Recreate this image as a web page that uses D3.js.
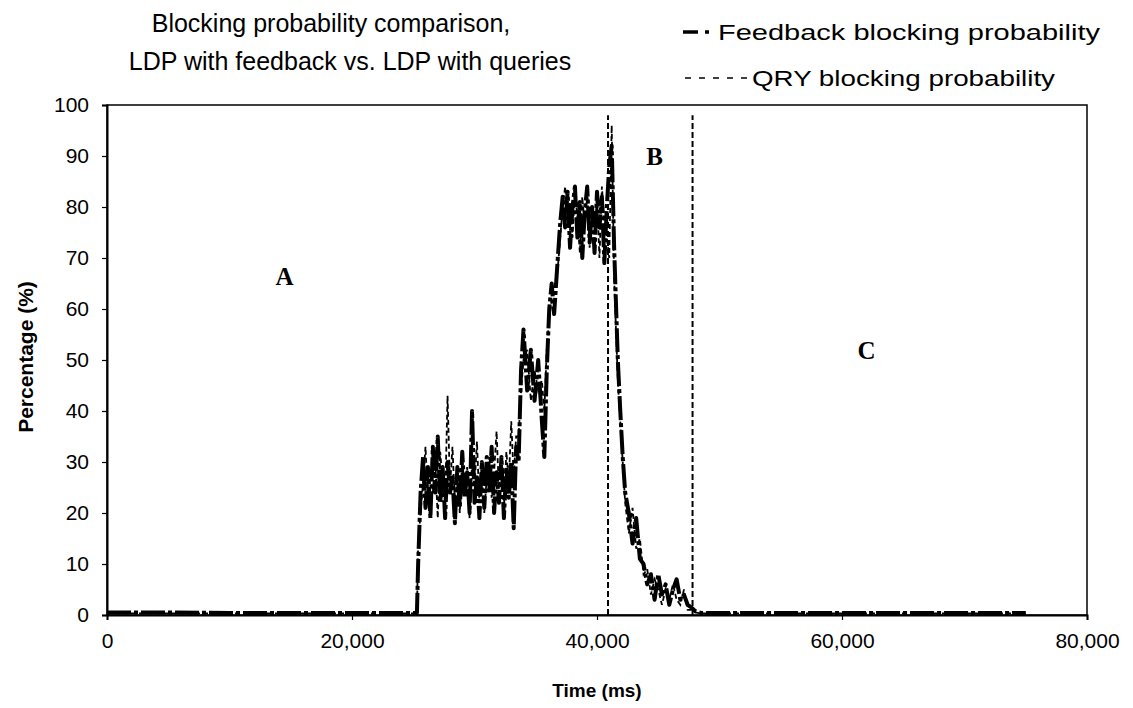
<!DOCTYPE html>
<html>
<head>
<meta charset="utf-8">
<script src="https://cdn.jsdelivr.net/npm/d3@7"></script>
<style>
  body { margin: 0; background: #fff; }
  svg { display: block; font-family: "Liberation Sans", Arial, sans-serif; }
</style>
</head>
<body>
<div id="chart"></div>
<script>
// time axis (ms), shared by both series
const timeMs = [
  0, 5000, 10000, 15000, 20000, 25300,
  25400, 25600, 25800, 26000, 26200, 26400, 26600, 26800, 27000, 27200,
  27400, 27600, 27800, 28000, 28200, 28400, 28600, 28800, 29000, 29200,
  29400, 29600, 29800, 30000, 30200, 30400, 30600, 30800, 31000, 31200,
  31400, 31600, 31800, 32000, 32200, 32400, 32600, 32800, 33000, 33200,
  33400,
  33600, 33800, 34000, 34300, 34600, 34900, 35200, 35500, 35700, 35900,
  36100, 36300, 36500, 36800, 37000,
  37200, 37400, 37600, 37800, 38000, 38200, 38400, 38600, 38800, 39000,
  39200, 39400, 39600, 39800, 40000, 40200, 40400, 40600, 40800, 41000,
  41200, 41400,
  41700, 41900, 42100, 42300, 42600, 42900, 43200, 43500, 43800, 44100,
  44400, 44700, 45000, 45300, 45600, 45900, 46200, 46500, 46800, 47100,
  47400, 47700, 48000, 48500, 55000, 65000, 75000
];

// blocking probability (%) with feedback
const feedbackPct = [
  0.5, 0.5, 0.4, 0.4, 0.4, 0.4,
  10, 24, 31, 21, 29, 19, 33, 24, 35, 22,
  29, 19, 30, 24, 27, 18, 29, 21, 32, 23,
  28, 20, 40, 22, 27, 19, 30, 21, 31, 24,
  33, 20, 28, 22, 31, 19, 29, 23, 30, 17,
  33,
  30, 48, 56, 44, 52, 42, 50, 38, 31, 48,
  60, 65, 59, 70, 77,
  82, 76, 83, 72, 80, 84, 74, 81, 70, 79,
  84, 73, 80, 71, 83, 76, 82, 69, 80, 88,
  92, 72,
  50, 40, 31, 24, 20, 14, 19, 11, 10, 6,
  8, 3, 8, 4, 6, 2, 5, 7, 3, 4,
  2, 1.5, 0.8, 0.4, 0.4, 0.4, 0.4
];

// blocking probability (%) with queries
const qryPct = [
  0.3, 0.3, 0.3, 0.3, 0.3, 0.3,
  14, 20, 26, 33, 22, 28, 24, 30, 19, 32,
  26, 22, 43, 25, 33, 22, 28, 20, 31, 24,
  29, 19, 30, 25, 34, 22, 28, 20, 27, 31,
  23, 28, 36, 24, 29, 21, 32, 26, 38, 27,
  35,
  35, 44, 50, 52, 42, 48, 44, 46, 40, 52,
  58, 62, 64, 68, 74,
  80, 84, 77, 81, 74, 83, 78, 71, 82, 76,
  84, 72, 79, 75, 82, 70, 84, 77, 74, 70,
  96, 66,
  46, 38, 30, 22, 16, 21, 13, 15, 8, 9,
  4, 7, 5, 2, 5, 3, 6, 3, 2, 5,
  1, 1, 0.5, 0.3, 0.3, 0.3, 0.3
];

const xTicks = [0, 20000, 40000, 60000, 80000];
const yTicks = [0, 10, 20, 30, 40, 50, 60, 70, 80, 90, 100];

// region boundaries and labels
const boundaryMs = [40900, 47800];
const regionNames = ["A", "B", "C"];
const regionMs = [14500, 44700, 62000];
const regionPct = [66.5, 90, 52];

const width = 1133, height = 708;
const margin = { top: 105, right: 46, bottom: 93, left: 107 };

const svg = d3.select("#chart").append("svg")
  .attr("width", width)
  .attr("height", height);

const x = d3.scaleLinear()
  .domain([0, 80000])
  .range([margin.left, width - margin.right]);

const y = d3.scaleLinear()
  .domain([0, 100])
  .range([height - margin.bottom, margin.top]);

// plot frame
svg.append("rect")
  .attr("x", x(0))
  .attr("y", y(100))
  .attr("width", x(80000) - x(0))
  .attr("height", y(0) - y(100))
  .attr("fill", "none")
  .attr("stroke", "#000")
  .attr("stroke-width", 1.5);

// axes
const yAxis = svg.append("g")
  .attr("transform", `translate(${x(0)},0)`)
  .call(d3.axisLeft(y).tickValues(yTicks).tickSize(5).tickPadding(13));

const xAxis = svg.append("g")
  .attr("transform", `translate(0,${y(0)})`)
  .call(d3.axisBottom(x).tickValues(xTicks).tickSize(5).tickPadding(13)
    .tickFormat(d3.format(",")));

[yAxis, xAxis].forEach(a => {
  a.select(".domain").attr("stroke", "#000").attr("stroke-width", 2);
  a.selectAll(".tick line").attr("stroke", "#000").attr("stroke-width", 1.2);
  a.selectAll(".tick text")
    .attr("fill", "#000")
    .style("font-family", "'Liberation Sans', Arial, sans-serif")
    .style("font-size", "21px");
});

// region boundaries
svg.selectAll("line.boundary")
  .data(boundaryMs)
  .enter()
  .append("line")
  .attr("class", "boundary")
  .attr("x1", d => x(d))
  .attr("x2", d => x(d))
  .attr("y1", y(0))
  .attr("y2", y(98))
  .attr("stroke", "#000")
  .attr("stroke-width", 2)
  .attr("stroke-dasharray", "6,3");

const points = timeMs.map((t, i) => ({ t, f: feedbackPct[i], q: qryPct[i] }));

// QRY series, thin dashed
svg.append("path")
  .datum(points)
  .attr("fill", "none")
  .attr("stroke", "#000")
  .attr("stroke-width", 1.8)
  .attr("stroke-dasharray", "5,3")
  .attr("d", d3.line().x(d => x(d.t)).y(d => y(d.q)));

// feedback series, thick dash-dot
svg.append("path")
  .datum(points)
  .attr("fill", "none")
  .attr("stroke", "#000")
  .attr("stroke-width", 4)
  .attr("stroke-linejoin", "round")
  .attr("stroke-dasharray", "24,3,4,3")
  .attr("d", d3.line().x(d => x(d.t)).y(d => y(d.f)));

// region labels
svg.selectAll("text.region")
  .data(regionNames)
  .enter()
  .append("text")
  .attr("class", "region")
  .attr("x", (d, i) => x(regionMs[i]))
  .attr("y", (d, i) => y(regionPct[i]))
  .attr("dy", "0.35em")
  .attr("text-anchor", "middle")
  .style("font-family", "'Liberation Serif', 'Times New Roman', serif")
  .style("font-weight", "bold")
  .style("font-size", "25px")
  .text(d => d);

// title
svg.append("text")
  .attr("x", 331)
  .attr("y", 32)
  .attr("text-anchor", "middle")
  .style("font-size", "25px")
  .text("Blocking probability comparison,");

svg.append("text")
  .attr("x", 350)
  .attr("y", 70)
  .attr("text-anchor", "middle")
  .style("font-size", "25px")
  .text("LDP with feedback vs. LDP with queries");

// axis titles
svg.append("text")
  .attr("transform", `translate(33,357) rotate(-90)`)
  .attr("text-anchor", "middle")
  .style("font-size", "21px")
  .style("font-weight", "bold")
  .text("Percentage (%)");

svg.append("text")
  .attr("x", (x(0) + x(80000)) / 2)
  .attr("y", 697)
  .attr("text-anchor", "middle")
  .style("font-size", "19px")
  .style("font-weight", "bold")
  .text("Time (ms)");

// legend
const legendItems = [
  { label: "Feedback blocking probability", dash: "15,7,4,7", w: 3.6, y: 32,
    x1: 683, x2: 716, tx: 718, len: 382 },
  { label: "QRY blocking probability", dash: "6,8", w: 1.4, y: 78,
    x1: 685, x2: 750, tx: 752, len: 303 }
];

const legend = svg.append("g").attr("class", "legend");
legendItems.forEach(item => {
  legend.append("line")
    .attr("x1", item.x1)
    .attr("x2", item.x2)
    .attr("y1", item.y)
    .attr("y2", item.y)
    .attr("stroke", "#000")
    .attr("stroke-width", item.w)
    .attr("stroke-dasharray", item.dash);
  legend.append("text")
    .attr("x", item.tx)
    .attr("y", item.y)
    .attr("dy", "0.35em")
    .attr("textLength", item.len)
    .attr("lengthAdjust", "spacingAndGlyphs")
    .style("font-size", "22px")
    .text(item.label);
});
</script>
</body>
</html>
